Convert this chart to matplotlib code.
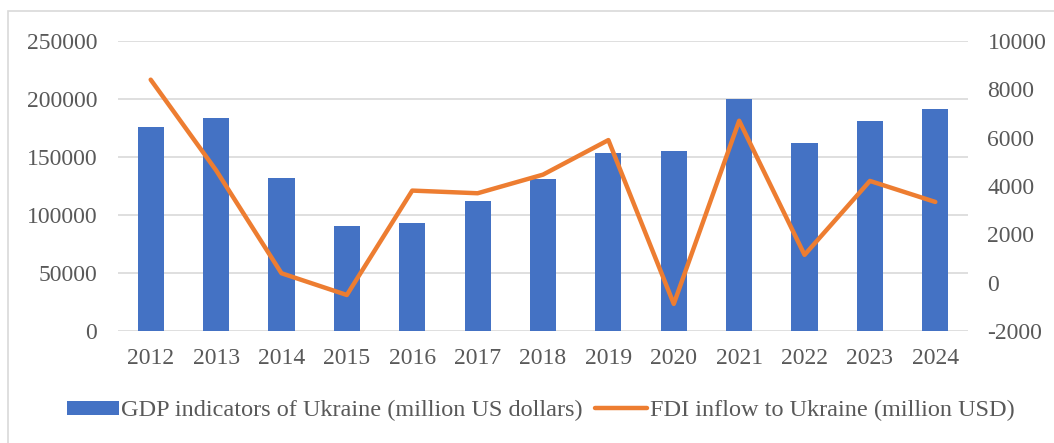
import numpy as np
import matplotlib.pyplot as plt
from matplotlib.patches import Rectangle

plt.rcParams['font.family'] = ['Liberation Serif', 'DejaVu Serif']
plt.rcParams['axes.unicode_minus'] = False

# data
years = ['2012', '2013', '2014', '2015', '2016', '2017', '2018',
         '2019', '2020', '2021', '2022', '2023', '2024']
gdp = [175800, 183300, 131600, 90200, 92800, 112100, 130700,
       153700, 155400, 199700, 161800, 180700, 191100]
fdi = [8400, 4650, 390, -510, 3810, 3700, 4470,
       5900, -880, 6700, 1150, 4210, 3340]
left_ticks = [0, 50000, 100000, 150000, 200000, 250000]
right_ticks = [-2000, 0, 2000, 4000, 6000, 8000, 10000]

blue = '#4472C4'
orange = '#ED7D31'
txt = '#595959'

fig = plt.figure(figsize=(10.54, 4.43), dpi=100)
# chart frame
fig.patches.append(Rectangle((8 / 1054, -0.1), 1.2, 1.1 - 11 / 443,
                             transform=fig.transFigure, fill=False,
                             edgecolor='#d9d9d9', lw=1.2))

ax = fig.add_axes([118 / 1054, 1 - 331 / 443, 850 / 1054, 290 / 443])
x = np.arange(len(years))
ax.bar(x, gdp, width=0.4, color=blue, label='GDP indicators of Ukraine (million US dollars)', zorder=2)
ax.set_xlim(-0.5, len(years) - 0.5)
ax.set_ylim(0, 250000)
ax.set_yticks(left_ticks)
ax.set_xticks(x)
ax.set_xticklabels(years)
ax.yaxis.grid(True, color='#d9d9d9', lw=1.2, zorder=0)
ax.set_axisbelow(True)
for s in ax.spines.values():
    s.set_visible(False)
ax.tick_params(length=0, labelsize=17, colors=txt, pad=12)
ax.tick_params(axis='y', pad=15)

ax2 = ax.twinx()
ax2.plot(x, fdi, color=orange, lw=3.2, solid_capstyle='round', solid_joinstyle='round',
         label='FDI inflow to Ukraine (million USD)')
ax2.set_ylim(-2000, 10000)
ax2.set_yticks(right_ticks)
for s in ax2.spines.values():
    s.set_visible(False)
ax2.tick_params(length=0, labelsize=17, colors=txt, pad=14)

h1, l1 = ax.get_legend_handles_labels()
h2, l2 = ax2.get_legend_handles_labels()
fig.legend(h1 + h2, l1 + l2, loc='center', bbox_to_anchor=(0.513, 0.073), ncol=2,
           frameon=False, fontsize=17.5, labelcolor=txt, handlelength=2.15,
           handleheight=0.5, handletextpad=0.1, columnspacing=0.5)

fig.savefig('out.png', dpi=100)
